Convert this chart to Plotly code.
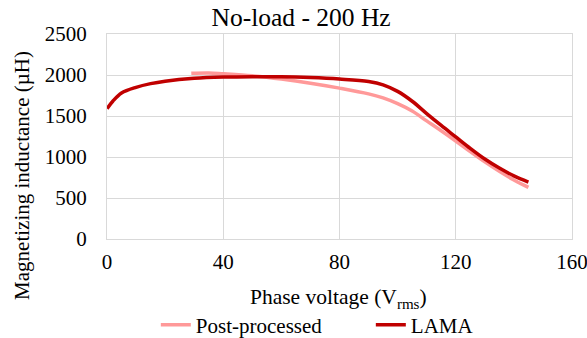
import plotly.graph_objects as go

pp_x = [29, 35, 40, 50, 60, 70, 80, 90, 95, 100, 105, 110, 115, 120, 125, 130, 135, 140, 145]
pp_y = [2020, 2025, 2015, 1990, 1950, 1900, 1840, 1770, 1720, 1650, 1560, 1440, 1320, 1195, 1065, 940, 825, 720, 630]

lama_x = [0, 2, 5, 10, 15, 20, 30, 40, 50, 60, 70, 80, 90, 95, 100, 105, 110, 115, 120, 125, 130, 135, 140, 145]
lama_y = [1590, 1680, 1780, 1850, 1895, 1925, 1960, 1975, 1980, 1978, 1968, 1950, 1920, 1880, 1800, 1680, 1530, 1385, 1245, 1105, 975, 865, 770, 695]

x_ticks = [0, 40, 80, 120, 160]
y_ticks = [0, 500, 1000, 1500, 2000, 2500]

font = "Liberation Serif"

fig = go.Figure()
fig.add_trace(go.Scatter(x=pp_x, y=pp_y, mode="lines", name="Post-processed",
                         line=dict(color="#FF9999", width=3.5, shape="spline")))
fig.add_trace(go.Scatter(x=lama_x, y=lama_y, mode="lines", name="LAMA",
                         line=dict(color="#C00000", width=3.5, shape="spline")))

axis_common = dict(showgrid=True, gridcolor="#D9D9D9", gridwidth=1.3,
                   showline=True, linecolor="#D9D9D9", linewidth=1.3, mirror=True,
                   zeroline=False, ticks="outside", tickcolor="rgba(0,0,0,0)",
                   automargin=False, ticklabeloverflow="allow",
                   tickfont=dict(family=font, size=21, color="black"))

fig.update_layout(
    width=587, height=338,
    margin=dict(l=107, r=15, t=34, b=99, autoexpand=False),
    paper_bgcolor="white", plot_bgcolor="white",
    font=dict(family=font, color="black", size=21),
    title=dict(text="No-load - 200 Hz", x=0.513, xanchor="center", xref="container",
               y=1 - 17 / 338, yref="container", yanchor="middle",
               font=dict(size=25.5, family=font, color="black")),
    xaxis=dict(range=[0, 160], tickvals=x_ticks, ticklen=4, **axis_common),
    yaxis=dict(range=[0, 2500], tickvals=y_ticks, ticklen=15, **axis_common),
    legend=dict(orientation="h", x=0.105, xanchor="left", y=-0.42, yanchor="middle",
                font=dict(size=21, family=font, color="black"),
                entrywidth=170, entrywidthmode="pixels", bgcolor="rgba(0,0,0,0)"),
    annotations=[
        dict(text="Phase voltage (V<sub>rms</sub>)", xref="paper", yref="paper",
             x=(339 - 107.3) / 464.4, y=-59 / 205, xanchor="center", yanchor="middle",
             showarrow=False, font=dict(size=21.5, family=font, color="black")),
        dict(text="Magnetizing inductance (µH)", xref="paper", yref="paper",
             x=-85 / 464.4, y=(239 - 175) / 205, xanchor="center", yanchor="middle",
             showarrow=False, textangle=-90,
             font=dict(size=21, family=font, color="black")),
    ],
)

fig.write_html("out.html")
